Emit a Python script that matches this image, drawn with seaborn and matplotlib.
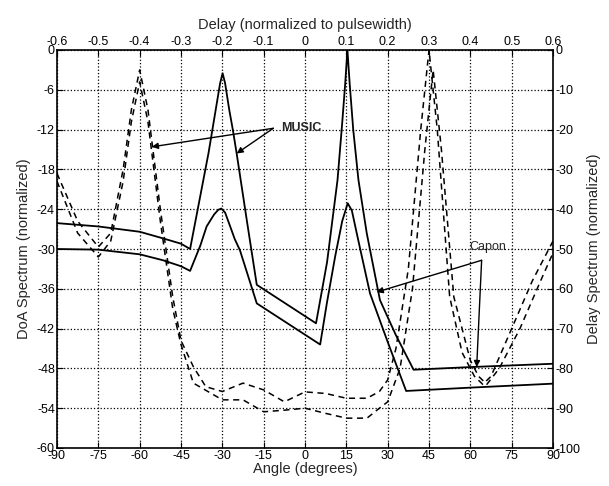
import numpy as np
import pandas as pd
import matplotlib
matplotlib.use("Agg")
import matplotlib.pyplot as plt
import seaborn as sns

# DoA spectra (bottom / left axes)
music_doa_angle = [-90, -75, -60, -51.5, -45, -41.7, -38, -35, -33.6, -32, -30.8, -29.9, -29, -27.5,
                   -26.2, -24.8, -21, -17.5, 4, 8, 11.8, 13.5, 14.6, 15.4, 16.2, 17.5, 19.4, 22.4,
                   27.2, 33, 39.4, 60, 90]
music_doa_db = [-26.1, -26.6, -27.4, -28.4, -29.2, -30.0, -22, -15.5, -12, -8, -5, -3.5, -5, -9,
                -12, -15.6, -26, -35.4, -41.2, -32, -19.6, -11, -5, 0, -5, -12, -19.6, -27.6,
                -37.7, -43, -48.2, -47.8, -47.3]

capon_doa_angle = [-90, -75, -60, -51.5, -45, -41.7, -38, -35.7, -33, -31.5, -30.4, -29, -27.5,
                   -25.5, -23.6, -17.5, 5.5, 8, 11, 13.5, 15.5, 17, 19.5, 23.6, 30, 36.7, 60, 90]
capon_doa_db = [-30.0, -30.1, -30.8, -31.7, -32.6, -33.3, -29.5, -26.6, -24.8, -24.1, -23.9, -24.5,
                -26.2, -28.5, -30.2, -38.2, -44.4, -38, -31, -25.8, -23.1, -24.2, -29, -36.7, -44,
                -51.4, -50.9, -50.3]

# Delay spectra (top / right axes)
delay_a = [-0.6, -0.55, -0.5, -0.47, -0.44, -0.42, -0.4, -0.38, -0.35, -0.32, -0.3, -0.27, -0.24,
           -0.2, -0.15, -0.1, -0.05, 0.0, 0.05, 0.1, 0.15, 0.18, 0.2, 0.22, 0.25, 0.28, 0.3, 0.32,
           0.35, 0.38, 0.41, 0.43, 0.45, 0.5, 0.55, 0.6]
delay_a_db = [-31, -43, -49.5, -46, -30, -15, -5, -15, -40, -62, -73, -79.6, -84.6, -85.8, -83.7,
              -85.4, -88.4, -85.9, -86.3, -87.5, -87.5, -85.8, -82.9, -75, -55, -20, 0, -20, -62,
              -76, -82, -84, -82, -70, -58, -48]

delay_b = [-0.6, -0.55, -0.5, -0.47, -0.44, -0.42, -0.4, -0.38, -0.35, -0.32, -0.3, -0.27, -0.2,
           -0.15, -0.1, -0.05, 0.0, 0.05, 0.1, 0.15, 0.18, 0.2, 0.23, 0.26, 0.29, 0.31, 0.33, 0.36,
           0.4, 0.42, 0.44, 0.47, 0.52, 0.57, 0.6]
delay_b_db = [-33, -46, -52, -48, -33, -18, -8, -18, -43, -65, -74, -83.7, -87.9, -87.9, -90.9,
              -90.5, -90.0, -91.3, -92.5, -92.5, -90.0, -88.4, -80, -60, -25, -5, -25, -62, -78,
              -82, -84, -80, -70, -58, -51]

angle_ticks = list(range(-90, 91, 15))
doa_ticks = list(range(-60, 1, 6))
delay_ticks = [round(v, 1) for v in np.arange(-0.6, 0.61, 0.1)]
delay_db_ticks = list(range(-100, 1, 10))

sns.set_style("ticks")
plt.rcParams['font.family'] = ['Liberation Sans', 'DejaVu Sans']
plt.rcParams['axes.unicode_minus'] = False

fig = plt.figure(figsize=(6.09, 4.86), dpi=100)
pos = [57 / 609, 38 / 486, 496 / 609, 398 / 486]
ax = fig.add_axes(pos)

sns.lineplot(x=music_doa_angle, y=music_doa_db, ax=ax, color='black', lw=1.3, sort=False, estimator=None)
sns.lineplot(x=capon_doa_angle, y=capon_doa_db, ax=ax, color='black', lw=1.3, sort=False, estimator=None)

ax.set_xlim(-90, 90)
ax.set_ylim(-60, 0)
ax.set_xticks(angle_ticks)
ax.set_yticks(doa_ticks)
ax.grid(True, color='black', linestyle=':', lw=0.9)
ax.tick_params(direction='in', length=4, labelsize=9, pad=1.5, colors='black')
ax.set_xlabel('Angle (degrees)', fontsize=10.5, labelpad=0)
ax.set_ylabel('DoA Spectrum (normalized)', fontsize=10.5, labelpad=4)
for s in ax.spines.values():
    s.set_color('black')
    s.set_linewidth(1.2)

# second axes for the delay spectra
axd = fig.add_axes(pos, frame_on=False)
axd.patch.set_alpha(0)
sns.lineplot(x=delay_a, y=delay_a_db, ax=axd, color='black', lw=1.1, sort=False, estimator=None)
sns.lineplot(x=delay_b, y=delay_b_db, ax=axd, color='black', lw=1.1, sort=False, estimator=None)
for ln in axd.lines:
    ln.set_linestyle((0, (4, 3)))
axd.set_xlim(-0.6, 0.6)
axd.set_ylim(-100, 0)
axd.xaxis.tick_top()
axd.yaxis.tick_right()
axd.xaxis.set_label_position('top')
axd.yaxis.set_label_position('right')
axd.set_xticks(delay_ticks)
axd.set_xticklabels(['0' if v == 0 else f'{v:g}' for v in delay_ticks])
axd.set_yticks(delay_db_ticks)
axd.tick_params(direction='in', length=4, labelsize=9, pad=1.5, colors='black')
axd.set_xlabel('Delay (normalized to pulsewidth)', fontsize=10.5, labelpad=5)
axd.set_ylabel('Delay Spectrum (normalized)', fontsize=10.5, labelpad=5)

# annotations (in DoA axes coordinates)
arrow = dict(arrowstyle='-|>', color='black', lw=1.0, mutation_scale=9, shrinkA=0, shrinkB=0)
ax.text(-8.8, -11.8, 'MUSIC', fontsize=9, fontweight='bold', ha='left', va='center')
ax.annotate('', xy=(-55.6, -14.6), xytext=(-11.5, -11.8), arrowprops=arrow)
ax.annotate('', xy=(-24.8, -15.6), xytext=(-11.5, -11.8), arrowprops=arrow)
ax.text(66.2, -29.7, 'Capon', fontsize=9, ha='center', va='center')
ax.annotate('', xy=(26.0, -36.5), xytext=(64.1, -31.7), arrowprops=arrow)
ax.annotate('', xy=(62.3, -47.8), xytext=(64.1, -31.7), arrowprops=arrow)

fig.savefig('out.png', dpi=100)
